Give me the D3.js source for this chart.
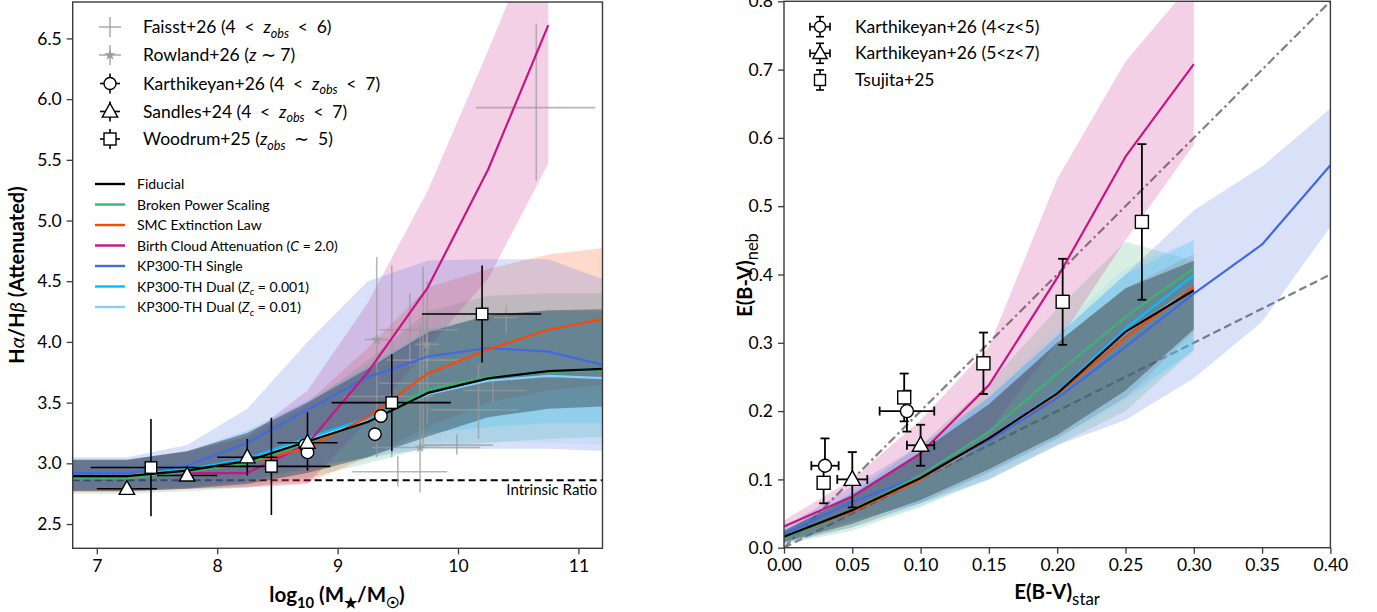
<!DOCTYPE html>
<html><head><meta charset="utf-8">
<script src="https://cdn.jsdelivr.net/npm/d3@7"></script>
<style>body{margin:0;background:#fff} svg{display:block} text{font-family:Lato,"Noto Sans",sans-serif;fill:#000}</style>
</head><body><svg id="c" width="1377" height="612"></svg>
<script>
// ---------------- LEFT PANEL DATA ----------------
const massGrid = [6.75, 7.25, 7.75, 8.25, 8.75, 9.25, 9.75, 10.25, 10.75, 11.25];
const massGridPink = [6.75, 7.25, 7.75, 8.25, 8.75, 9.25, 9.75, 10.25, 10.75];
const fidL = [2.895, 2.895, 2.94, 3.02, 3.18, 3.34, 3.58, 3.70, 3.76, 3.78];
const fidLlo = [2.77, 2.77, 2.79, 2.83, 2.92, 3.05, 3.22, 3.38, 3.45, 3.47];
const fidLhi = [3.03, 3.03, 3.10, 3.25, 3.50, 3.78, 4.08, 4.22, 4.26, 4.27];
const bpsL = [2.875, 2.875, 2.93, 3.00, 3.17, 3.34, 3.61, 3.71, 3.75, 3.77];
const bpsLlo = [2.75, 2.75, 2.77, 2.80, 2.88, 3.00, 3.13, 3.17, 3.20, 3.22];
const bpsLhi = [3.02, 3.02, 3.09, 3.22, 3.48, 3.85, 4.25, 4.38, 4.40, 4.40];
const smcL = [2.89, 2.89, 2.93, 3.00, 3.13, 3.38, 3.74, 3.94, 4.10, 4.20];
const smcLlo = [2.77, 2.77, 2.79, 2.81, 2.84, 3.05, 3.30, 3.50, 3.60, 3.65];
const smcLhi = [3.03, 3.03, 3.10, 3.25, 3.50, 3.95, 4.45, 4.60, 4.72, 4.78];
const bcaL = [2.89, 2.89, 2.92, 2.92, 3.16, 3.75, 4.45, 5.42, 6.61];
const bcaLlo = [2.77, 2.77, 2.79, 2.80, 2.83, 3.35, 3.95, 4.52, 5.47];
const bcaLhi = [3.03, 3.03, 3.10, 3.22, 3.60, 4.32, 5.25, 6.40, 7.60];
const kpsL = [2.92, 2.92, 2.98, 3.17, 3.44, 3.71, 3.88, 3.95, 3.92, 3.80];
const kpsLlo = [2.78, 2.78, 2.80, 2.85, 2.97, 3.05, 3.12, 3.12, 3.12, 3.10];
const kpsLhi = [3.05, 3.05, 3.15, 3.45, 4.00, 4.50, 4.67, 4.68, 4.68, 4.50];
const kd1L = [2.895, 2.895, 2.95, 3.04, 3.21, 3.37, 3.58, 3.70, 3.76, 3.78];
const kd1Llo = [2.78, 2.78, 2.80, 2.85, 2.95, 3.05, 3.25, 3.30, 3.33, 3.33];
const kd1Lhi = [3.03, 3.03, 3.10, 3.27, 3.52, 3.80, 4.10, 4.22, 4.25, 4.25];
const kd2L = [2.895, 2.895, 2.95, 3.03, 3.19, 3.36, 3.57, 3.68, 3.72, 3.70];
const kd2Llo = [2.78, 2.78, 2.80, 2.84, 2.93, 3.03, 3.18, 3.18, 3.17, 3.15];
const kd2Lhi = [3.03, 3.03, 3.10, 3.26, 3.50, 3.78, 4.05, 4.18, 4.20, 4.20];

// observations (x, y, xerr-, xerr+, yerr-, yerr+)
const faisst = [
  [10.65, 5.93, 0.50, 0.49, 0.60, 0.69],
  [9.50, 2.93, 0.38, 0.41, 0.12, 0.13],
  [9.99, 3.15, 0.31, 0.30, 0.08, 0.09],
  [10.29, 3.60, 0.25, 0.28, 0.10, 0.10],
  [10.17, 3.44, 0.40, 0.33, 0.24, 0.38],
  [9.71, 3.85, 0.30, 0.35, 0.69, 0.77],
  [9.745, 3.66, 0.40, 0.25, 0.33, 0.84],
  [9.45, 3.55, 0.40, 0.35, 0.50, 1.08],
  [10.40, 4.20, 0.10, 0.10, 0.13, 0.10],
  [9.60, 4.10, 0.25, 0.40, 0.30, 0.30]
];
const rowland = [
  [9.325, 4.02, 0.10, 0.10, 0.97, 0.68],
  [9.74, 3.98, 0.10, 0.10, 0.20, 0.20],
  [9.685, 3.13, 0.40, 0.50, 0.37, 1.02]
];
const karthL = [[8.73, 3.15, 0.04], [8.75, 3.09, 0.04], [9.31, 3.24, 0.04], [9.36, 3.39, 0.04]];
const sandles = [
  [7.25, 2.79, 0.25, 0.25, 0.0, 0.0],
  [7.75, 2.90, 0.25, 0.25, 0.0, 0.0],
  [8.25, 3.05, 0.25, 0.25, 0.15, 0.15],
  [8.75, 3.17, 0.25, 0.25, 0.23, 0.25]
];
const woodrum = [
  [7.45, 2.965, 0.50, 0.49, 0.40, 0.40],
  [8.45, 2.975, 0.46, 0.49, 0.40, 0.40],
  [9.45, 3.50, 0.50, 0.49, 0.40, 0.40],
  [10.20, 4.23, 0.50, 0.49, 0.40, 0.40]
];
const intrinsicRatio = 2.86;
const xTicksL = [7, 8, 9, 10, 11];
const yTicksL = [2.5, 3.0, 3.5, 4.0, 4.5, 5.0, 5.5, 6.0, 6.5];

// ---------------- RIGHT PANEL DATA ----------------
const ebvGrid = [0, 0.05, 0.10, 0.15, 0.20, 0.25, 0.30];
const ebvGridKPS = [0, 0.05, 0.10, 0.15, 0.20, 0.25, 0.30, 0.35, 0.40];
const fidR = [0.016, 0.055, 0.102, 0.160, 0.226, 0.316, 0.377];
const fidRlo = [0.008, 0.035, 0.070, 0.115, 0.165, 0.230, 0.320];
const fidRhi = [0.025, 0.075, 0.140, 0.210, 0.300, 0.380, 0.420];
const bpsR = [0.0137, 0.055, 0.106, 0.170, 0.255, 0.338, 0.409];
const bpsRlo = [0.005, 0.025, 0.060, 0.100, 0.150, 0.200, 0.290];
const bpsRhi = [0.025, 0.080, 0.150, 0.240, 0.350, 0.448, 0.420];
const smcR = [0.015, 0.053, 0.100, 0.160, 0.225, 0.308, 0.381];
const smcRlo = [0.007, 0.030, 0.065, 0.110, 0.160, 0.220, 0.316];
const smcRhi = [0.025, 0.075, 0.140, 0.210, 0.300, 0.380, 0.430];
const bcaR = [0.031, 0.075, 0.138, 0.238, 0.395, 0.5725, 0.708];
const bcaRlo = [0.020, 0.050, 0.100, 0.170, 0.300, 0.450, 0.590];
const bcaRhi = [0.040, 0.100, 0.187, 0.294, 0.540, 0.712, 0.830];
const kpsR = [0.020, 0.067, 0.105, 0.157, 0.219, 0.294, 0.372, 0.444, 0.560];
const kpsRlo = [0.010, 0.040, 0.065, 0.100, 0.150, 0.187, 0.248, 0.331, 0.470];
const kpsRhi = [0.030, 0.090, 0.150, 0.220, 0.310, 0.400, 0.494, 0.558, 0.643];
const kd1R = [0.016, 0.055, 0.100, 0.160, 0.228, 0.321, 0.399];
const kd1Rlo = [0.007, 0.030, 0.065, 0.110, 0.160, 0.220, 0.290];
const kd1Rhi = [0.025, 0.080, 0.140, 0.220, 0.310, 0.400, 0.450];
const kd2R = [0.016, 0.055, 0.100, 0.158, 0.226, 0.315, 0.380];
const kd2Rlo = [0.006, 0.030, 0.060, 0.105, 0.155, 0.215, 0.285];
const kd2Rhi = [0.026, 0.080, 0.145, 0.220, 0.320, 0.410, 0.450];

// (x, y, xerr, yerr-, yerr+)
const karthR45 = [[0.030, 0.120, 0.010, 0.0, 0.040], [0.090, 0.200, 0.020, 0.030, 0.030]];
const karthR57 = [[0.050, 0.100, 0.011, 0.041, 0.040], [0.100, 0.150, 0.010, 0.030, 0.030]];
const tsujita = [
  [0.029, 0.095, 0, 0.030, 0.030],
  [0.088, 0.220, 0, 0.035, 0.035],
  [0.146, 0.270, 0, 0.045, 0.045],
  [0.204, 0.360, 0, 0.063, 0.063],
  [0.262, 0.477, 0, 0.114, 0.114]
];
const xTicksR = [0, 0.05, 0.10, 0.15, 0.20, 0.25, 0.30, 0.35, 0.40];
const yTicksR = [0, 0.1, 0.2, 0.3, 0.4, 0.5, 0.6, 0.7, 0.8];

// ---------------- STYLE ----------------
const models = [
  {name: "Fiducial", color: "#000000", fillOp: 0.3},
  {name: "Broken Power Scaling", color: "#3CB371", fillOp: 0.2},
  {name: "SMC Extinction Law", color: "#FF4500", fillOp: 0.2},
  {name: "Birth Cloud Attenuation", color: "#C71585", fillOp: 0.2},
  {name: "KP300-TH Single", color: "#4169E1", fillOp: 0.2},
  {name: "KP300-TH Dual 0.001", color: "#00BFFF", fillOp: 0.2},
  {name: "KP300-TH Dual 0.01", color: "#87CEFA", fillOp: 0.2}
];
const fillOrder = [1, 2, 3, 4, 5, 6, 0];
const leftSeries = [
  [massGrid, fidL, fidLlo, fidLhi], [massGrid, bpsL, bpsLlo, bpsLhi], [massGrid, smcL, smcLlo, smcLhi],
  [massGridPink, bcaL, bcaLlo, bcaLhi], [massGrid, kpsL, kpsLlo, kpsLhi], [massGrid, kd1L, kd1Llo, kd1Lhi],
  [massGrid, kd2L, kd2Llo, kd2Lhi]
];
const rightSeries = [
  [ebvGrid, fidR, fidRlo, fidRhi], [ebvGrid, bpsR, bpsRlo, bpsRhi], [ebvGrid, smcR, smcRlo, smcRhi],
  [ebvGrid, bcaR, bcaRlo, bcaRhi], [ebvGridKPS, kpsR, kpsRlo, kpsRhi], [ebvGrid, kd1R, kd1Rlo, kd1Rhi],
  [ebvGrid, kd2R, kd2Rlo, kd2Rhi]
];

const svg = d3.select("#c");
const xL = d3.scaleLinear().domain([6.8, 11.2]).range([72.7, 602.5]);
const yL = d3.scaleLinear().domain([2.3, 6.8]).range([548.3, 2.0]);
const xR = d3.scaleLinear().domain([0, 0.4]).range([784, 1330.4]);
const yR = d3.scaleLinear().domain([0, 0.8]).range([547.7, 1.3]);

const defs = svg.append("defs");
defs.append("clipPath").attr("id", "clipL").append("rect")
  .attr("x", xL.range()[0]).attr("y", yL.range()[1]).attr("width", xL.range()[1] - xL.range()[0]).attr("height", yL.range()[0] - yL.range()[1]);
defs.append("clipPath").attr("id", "clipR").append("rect")
  .attr("x", xR.range()[0]).attr("y", yR.range()[1]).attr("width", xR.range()[1] - xR.range()[0]).attr("height", yR.range()[0] - yR.range()[1]);

// rich text helper
function rich(parent, x, y, parts, size, opts = {}) {
  const t = parent.append("text").attr("x", x).attr("y", y).attr("font-size", size);
  if (opts.anchor) t.attr("text-anchor", opts.anchor);
  if (opts.weight) t.attr("font-weight", opts.weight);
  if (opts.transform) t.attr("transform", opts.transform);
  let cur = 0;
  parts.forEach(p => {
    const ts = t.append("tspan").text(p.t);
    let target = 0;
    if (p.sub) { target = size * 0.28; ts.attr("font-size", size * 0.72); }
    if (p.size) ts.attr("font-size", size * p.size);
    if (target !== cur) { ts.attr("dy", target - cur); cur = target; }
    if (p.i) ts.attr("font-style", "italic");
    if (p.w) ts.attr("font-weight", p.w);
  });
  return t;
}

function drawPanel(xs, ys, clipId, series, extraBelow, obsFn) {
  const g = svg.append("g").attr("clip-path", `url(#${clipId})`);
  extraBelow(g);
  fillOrder.forEach(i => {
    const [gx, m, lo, hi] = series[i];
    const pts = gx.map((x, k) => ({x, lo: lo[k], hi: hi[k]}));
    g.append("path").attr("d", d3.area().x(d => xs(d.x)).y0(d => ys(d.lo)).y1(d => ys(d.hi))(pts))
      .attr("fill", models[i].color).attr("fill-opacity", models[i].fillOp).attr("stroke", "none");
  });
  const lineOrder = [6, 5, 4, 3, 2, 1, 0];
  obsFn.grey && obsFn.grey(g);
  lineOrder.forEach(i => {
    const [gx, m] = series[i];
    const pts = gx.map((x, k) => [xs(x), ys(m[k])]);
    g.append("path").attr("d", d3.line()(pts)).attr("fill", "none")
      .attr("stroke", models[i].color).attr("stroke-width", 2.2).attr("stroke-linejoin", "round");
  });
  const g2 = svg.append("g").attr("clip-path", `url(#${clipId})`);
  obsFn.top(g2);
}

function marker(g, type, cx, cy, size) {
  if (type === "circle") {
    g.append("circle").attr("cx", cx).attr("cy", cy).attr("r", size / 2)
      .attr("fill", "#fff").attr("stroke", "#000").attr("stroke-width", 1.4);
  } else if (type === "square") {
    g.append("rect").attr("x", cx - size / 2).attr("y", cy - size / 2).attr("width", size).attr("height", size)
      .attr("fill", "#fff").attr("stroke", "#000").attr("stroke-width", 1.4);
  } else if (type === "triangle") {
    const h = size * 0.95, w = size * 1.1;
    g.append("path").attr("d", `M${cx},${cy - h * 0.62}L${cx + w / 2},${cy + h * 0.42}L${cx - w / 2},${cy + h * 0.42}Z`)
      .attr("fill", "#fff").attr("stroke", "#000").attr("stroke-width", 1.4).attr("stroke-linejoin", "miter");
  }
}
function seg(g, x1, y1, x2, y2, color, w, op) {
  g.append("line").attr("x1", x1).attr("y1", y1).attr("x2", x2).attr("y2", y2)
    .attr("stroke", color).attr("stroke-width", w).attr("stroke-opacity", op === undefined ? 1 : op);
}

// ---------------- LEFT PANEL ----------------
drawPanel(xL, yL, "clipL", leftSeries, g => {
  g.append("line").attr("x1", xL(6.8)).attr("x2", xL(11.2)).attr("y1", yL(intrinsicRatio)).attr("y2", yL(intrinsicRatio))
    .attr("stroke", "#000").attr("stroke-width", 2).attr("stroke-dasharray", "7,4");
}, {
  grey: g => {
    const greyCol = "#9a9a9a";
    faisst.forEach(d => {
      seg(g, xL(d[0] - d[2]), yL(d[1]), xL(d[0] + d[3]), yL(d[1]), greyCol, 1.6, 0.7);
      seg(g, xL(d[0]), yL(d[1] - d[4]), xL(d[0]), yL(d[1] + d[5]), greyCol, 1.6, 0.7);
    });
    rowland.forEach(d => {
      seg(g, xL(d[0] - d[2]), yL(d[1]), xL(d[0] + d[3]), yL(d[1]), greyCol, 1.6, 0.7);
      seg(g, xL(d[0]), yL(d[1] - d[4]), xL(d[0]), yL(d[1] + d[5]), greyCol, 1.6, 0.7);
      g.append("path").attr("d", d3.symbol(d3.symbolStar, 40)()).attr("transform", `translate(${xL(d[0])},${yL(d[1])})`)
        .attr("fill", greyCol).attr("fill-opacity", 0.8);
    });
  },
  top: g => {
    const bw = 1.6;
    sandles.forEach(d => {
      seg(g, xL(d[0] - d[2]), yL(d[1]), xL(d[0] + d[3]), yL(d[1]), "#000", bw);
      if (d[4] + d[5] > 0) seg(g, xL(d[0]), yL(d[1] - d[4]), xL(d[0]), yL(d[1] + d[5]), "#000", bw);
    });
    woodrum.forEach(d => {
      seg(g, xL(d[0] - d[2]), yL(d[1]), xL(d[0] + d[3]), yL(d[1]), "#000", bw);
      seg(g, xL(d[0]), yL(d[1] - d[4]), xL(d[0]), yL(d[1] + d[5]), "#000", bw);
    });
    karthL.forEach(d => {
      seg(g, xL(d[0]), yL(d[1] - d[2]), xL(d[0]), yL(d[1] + d[2]), "#555", 1.2);
      marker(g, "circle", xL(d[0]), yL(d[1]), 12.5);
    });
    sandles.forEach(d => marker(g, "triangle", xL(d[0]), yL(d[1]), 14));
    woodrum.forEach(d => marker(g, "square", xL(d[0]), yL(d[1]), 11.5));
  }
});

svg.append("text").attr("x", 597).attr("y", 495).attr("text-anchor", "end").attr("font-size", 15).text("Intrinsic Ratio");

// ---------------- RIGHT PANEL ----------------
drawPanel(xR, yR, "clipR", rightSeries, g => {
  g.append("line").attr("x1", xR(0)).attr("y1", yR(0)).attr("x2", xR(0.4)).attr("y2", yR(0.8))
    .attr("stroke", "#808080").attr("stroke-width", 2.2).attr("stroke-dasharray", "9,3.5,2.5,3.5");
  g.append("line").attr("x1", xR(0)).attr("y1", yR(0)).attr("x2", xR(0.4)).attr("y2", yR(0.4))
    .attr("stroke", "#808080").attr("stroke-width", 2.2).attr("stroke-dasharray", "8,4");
}, {
  top: g => {
    const bw = 1.8, cap = 4.5;
    function eb(d) {
      const cx = xR(d[0]), cy = yR(d[1]);
      if (d[2] > 0) {
        seg(g, xR(d[0] - d[2]), cy, xR(d[0] + d[2]), cy, "#000", bw);
        seg(g, xR(d[0] - d[2]), cy - cap, xR(d[0] - d[2]), cy + cap, "#000", bw);
        seg(g, xR(d[0] + d[2]), cy - cap, xR(d[0] + d[2]), cy + cap, "#000", bw);
      }
      const y1 = yR(d[1] - d[3]), y2 = yR(d[1] + d[4]);
      seg(g, cx, y1, cx, y2, "#000", bw);
      if (d[3] > 0) seg(g, cx - cap, y1, cx + cap, y1, "#000", bw);
      seg(g, cx - cap, y2, cx + cap, y2, "#000", bw);
    }
    tsujita.forEach(eb); karthR45.forEach(eb); karthR57.forEach(eb);
    tsujita.forEach(d => marker(g, "square", xR(d[0]), yR(d[1]), 13));
    karthR45.forEach(d => marker(g, "circle", xR(d[0]), yR(d[1]), 13));
    karthR57.forEach(d => marker(g, "triangle", xR(d[0]), yR(d[1]), 15));
  }
});

// ---------------- AXES ----------------
function frame(xs, ys) {
  const [x0, x1] = xs.range(), [y0, y1] = ys.range();
  svg.append("rect").attr("x", x0).attr("y", y1).attr("width", x1 - x0).attr("height", y0 - y1)
    .attr("fill", "none").attr("stroke", "#3a3a3a").attr("stroke-width", 1.4);
}
function axes(xs, ys, xt, yt, xfmt, yfmt) {
  const gx = svg.append("g").attr("transform", `translate(0,${ys.range()[0]})`)
    .call(d3.axisBottom(xs).tickValues(xt).tickFormat(xfmt).tickSize(6).tickPadding(5));
  const gy = svg.append("g").attr("transform", `translate(${xs.range()[0]},0)`)
    .call(d3.axisLeft(ys).tickValues(yt).tickFormat(yfmt).tickSize(6).tickPadding(5));
  [gx, gy].forEach(a => {
    a.select(".domain").remove();
    a.selectAll(".tick line").attr("stroke", "#3a3a3a").attr("stroke-width", 1.3);
    a.selectAll(".tick text").attr("font-size", 17.5).attr("font-family", "Lato, 'Noto Sans', sans-serif").attr("fill", "#000");
  });
  frame(xs, ys);
}
axes(xL, yL, xTicksL, yTicksL, d3.format("d"), d3.format(".1f"));
axes(xR, yR, xTicksR, yTicksR, d3.format(".2f"), d3.format(".1f"));

// axis labels
rich(svg, 337, 602, [{t: "log", w: "bold"}, {t: "10", sub: true, w: "bold"}, {t: " (M", w: "bold"}, {t: "★", sub: true}, {t: "/M", w: "bold"}, {t: "☉", sub: true}, {t: ")", w: "bold"}], 20.5, {anchor: "middle", weight: "bold"});
rich(svg, 1057, 599, [{t: "E(B-V)", w: "bold"}, {t: "star", sub: true, w: "normal", size: 0.82}], 20.5, {anchor: "middle"});
rich(svg, 0, 0, [{t: "H", w: "bold"}, {t: "α", i: true, w: "normal"}, {t: "/H", w: "bold"}, {t: "β", i: true, w: "normal"}, {t: " (Attenuated)", w: "bold"}], 20, {anchor: "middle", transform: "translate(24,275) rotate(-90)"});
rich(svg, 0, 0, [{t: "E(B-V)", w: "bold"}, {t: "neb", sub: true, w: "normal", size: 0.82}], 20, {anchor: "middle", transform: "translate(752,275) rotate(-90)"});

// ---------------- LEGENDS ----------------
const S = "\u2002";
const legTop = svg.append("g");
const legRows = [
  {y: 27, type: "faisst", parts: [{t: "Faisst+26 (4" + S + "<" + S}, {t: "z", i: true}, {t: "obs", i: true, sub: true}, {t: S + "<" + S + "6)"}]},
  {y: 55, type: "rowland", parts: [{t: "Rowland+26 ("}, {t: "z", i: true}, {t: " ∼ 7)"}]},
  {y: 83.5, type: "circle", parts: [{t: "Karthikeyan+26 (4" + S + "<" + S}, {t: "z", i: true}, {t: "obs", i: true, sub: true}, {t: S + "<" + S + "7)"}]},
  {y: 111.5, type: "triangle", parts: [{t: "Sandles+24 (4" + S + "<" + S}, {t: "z", i: true}, {t: "obs", i: true, sub: true}, {t: S + "<" + S + "7)"}]},
  {y: 139, type: "square", parts: [{t: "Woodrum+25 ("}, {t: "z", i: true}, {t: "obs", i: true, sub: true}, {t: S + "∼" + S + "5)"}]}
];
legRows.forEach(r => {
  const cx = 110;
  if (r.type === "faisst" || r.type === "rowland") {
    seg(legTop, cx - 11, r.y, cx + 11, r.y, "#9a9a9a", 1.6, 0.8);
    seg(legTop, cx, r.y - 10, cx, r.y + 10, "#9a9a9a", 1.6, 0.8);
    if (r.type === "rowland") legTop.append("path").attr("d", d3.symbol(d3.symbolStar, 40)()).attr("transform", `translate(${cx},${r.y})`).attr("fill", "#9a9a9a");
  } else {
    seg(legTop, cx - 10, r.y, cx + 10, r.y, "#000", 1.6);
    seg(legTop, cx, r.y - 10, cx, r.y + 10, "#000", 1.6);
    marker(legTop, r.type, cx, r.y, r.type === "triangle" ? 14 : 12);
  }
  rich(legTop, 143, r.y + 6, r.parts, 17.5);
});

const legLines = [
  {parts: [{t: "Fiducial"}]},
  {parts: [{t: "Broken Power Scaling"}]},
  {parts: [{t: "SMC Extinction Law"}]},
  {parts: [{t: "Birth Cloud Attenuation ("}, {t: "C", i: true}, {t: " = 2.0)"}]},
  {parts: [{t: "KP300-TH Single"}]},
  {parts: [{t: "KP300-TH Dual ("}, {t: "Z", i: true}, {t: "c", i: true, sub: true}, {t: " = 0.001)"}]},
  {parts: [{t: "KP300-TH Dual ("}, {t: "Z", i: true}, {t: "c", i: true, sub: true}, {t: " = 0.01)"}]}
];
const legLineYs = [184, 204.5, 225, 245.5, 266, 286.5, 307];
legLines.forEach((r, i) => {
  const y = legLineYs[i];
  seg(svg, 95, y, 125, y, models[i].color, 2.4);
  rich(svg, 137, y + 5, r.parts, 14);
});

const legR = svg.append("g");
const legRRows = [
  {y: 26.7, type: "circle", text: "Karthikeyan+26 (4<z<5)", xe: true},
  {y: 53.3, type: "triangle", text: "Karthikeyan+26 (5<z<7)", xe: true},
  {y: 80, type: "square", text: "Tsujita+25", xe: false}
];
legRRows.forEach(r => {
  const cx = 820, cap = 4;
  if (r.xe) {
    seg(legR, cx - 10, r.y, cx + 10, r.y, "#000", 1.6);
    seg(legR, cx - 10, r.y - cap, cx - 10, r.y + cap, "#000", 1.6);
    seg(legR, cx + 10, r.y - cap, cx + 10, r.y + cap, "#000", 1.6);
  }
  seg(legR, cx, r.y - 10, cx, r.y + 10, "#000", 1.6);
  seg(legR, cx - cap, r.y - 10, cx + cap, r.y - 10, "#000", 1.6);
  seg(legR, cx - cap, r.y + 10, cx + cap, r.y + 10, "#000", 1.6);
  marker(legR, r.type, cx, r.y, r.type === "triangle" ? 13 : 11);
  legR.append("text").attr("x", 855).attr("y", r.y + 6).attr("font-size", 17.5).text(r.text);
});
</script></body></html>
